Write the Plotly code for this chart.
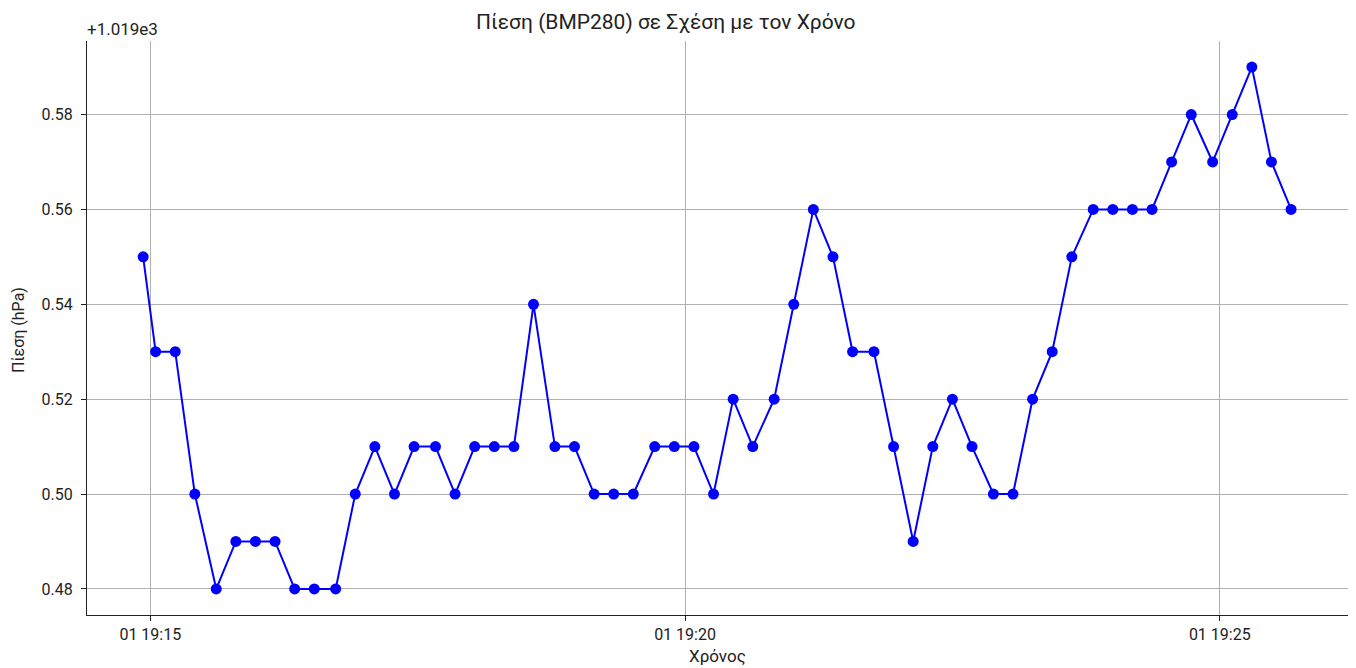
import plotly.graph_objects as go

# Timestamps
times = [
    "2025-01-01 19:14:56", "2025-01-01 19:15:03", "2025-01-01 19:15:14", "2025-01-01 19:15:25",
    "2025-01-01 19:15:37", "2025-01-01 19:15:48", "2025-01-01 19:15:59", "2025-01-01 19:16:10",
    "2025-01-01 19:16:21", "2025-01-01 19:16:32", "2025-01-01 19:16:44", "2025-01-01 19:16:55",
    "2025-01-01 19:17:06", "2025-01-01 19:17:17", "2025-01-01 19:17:28", "2025-01-01 19:17:40",
    "2025-01-01 19:17:51", "2025-01-01 19:18:02", "2025-01-01 19:18:13", "2025-01-01 19:18:24",
    "2025-01-01 19:18:35", "2025-01-01 19:18:47", "2025-01-01 19:18:58", "2025-01-01 19:19:09",
    "2025-01-01 19:19:20", "2025-01-01 19:19:31", "2025-01-01 19:19:43", "2025-01-01 19:19:54",
    "2025-01-01 19:20:05", "2025-01-01 19:20:16", "2025-01-01 19:20:27", "2025-01-01 19:20:38",
    "2025-01-01 19:20:50", "2025-01-01 19:21:01", "2025-01-01 19:21:12", "2025-01-01 19:21:23",
    "2025-01-01 19:21:34", "2025-01-01 19:21:46", "2025-01-01 19:21:57", "2025-01-01 19:22:08",
    "2025-01-01 19:22:19", "2025-01-01 19:22:30", "2025-01-01 19:22:41", "2025-01-01 19:22:53",
    "2025-01-01 19:23:04", "2025-01-01 19:23:15", "2025-01-01 19:23:26", "2025-01-01 19:23:37",
    "2025-01-01 19:23:49", "2025-01-01 19:24:00", "2025-01-01 19:24:11", "2025-01-01 19:24:22",
    "2025-01-01 19:24:33", "2025-01-01 19:24:44", "2025-01-01 19:24:56", "2025-01-01 19:25:07",
    "2025-01-01 19:25:18", "2025-01-01 19:25:29", "2025-01-01 19:25:40",
]

# Pressure in hPa
pressure = [
    1019.55, 1019.53, 1019.53, 1019.50, 1019.48, 1019.49, 1019.49, 1019.49,
    1019.48, 1019.48, 1019.48, 1019.50, 1019.51, 1019.50, 1019.51, 1019.51,
    1019.50, 1019.51, 1019.51, 1019.51, 1019.54, 1019.51, 1019.51, 1019.50,
    1019.50, 1019.50, 1019.51, 1019.51, 1019.51, 1019.50, 1019.52, 1019.51,
    1019.52, 1019.54, 1019.56, 1019.55, 1019.53, 1019.53, 1019.51, 1019.49,
    1019.51, 1019.52, 1019.51, 1019.50, 1019.50, 1019.52, 1019.53, 1019.55,
    1019.56, 1019.56, 1019.56, 1019.56, 1019.57, 1019.58, 1019.57, 1019.58,
    1019.59, 1019.57, 1019.56,
]

y_tick_vals = [1019.48, 1019.50, 1019.52, 1019.54, 1019.56, 1019.58]
y_tick_text = ["0.48", "0.50", "0.52", "0.54", "0.56", "0.58"]
x_tick_vals = ["2025-01-01 19:15:00", "2025-01-01 19:20:00", "2025-01-01 19:25:00"]
x_tick_text = ["01 19:15", "01 19:20", "01 19:25"]

FONT = "Roboto, 'Open Sans', sans-serif"
TXT = "#222222"

fig = go.Figure()
fig.add_trace(go.Scatter(
    x=times, y=pressure, mode="lines+markers",
    line=dict(color="#0000ff", width=2),
    marker=dict(color="#0000ff", size=11),
    showlegend=False,
))

# The page body has an 8px margin, so the figure starts at (8, 8) in the window.
OFF = 8
W, H = 1356 - OFF, 668 - OFF
L, T = 87 - OFF, 41 - OFF
R = W - (1349 - OFF)
B = H - (615 - OFF)
ph = H - T - B
pw = W - L - R


def px_x(x):
    return (x - OFF - L) / pw


def px_y(y):
    return (H - B - (y - OFF)) / ph


fig.update_layout(
    width=W, height=H,
    margin=dict(l=L, r=R, t=T, b=B),
    paper_bgcolor="white", plot_bgcolor="white",
    font=dict(family=FONT, size=16, color=TXT),
    xaxis=dict(
        range=["2025-01-01 19:14:24.5", "2025-01-01 19:26:12.5"],
        tickvals=x_tick_vals, ticktext=x_tick_text,
        showgrid=True, gridcolor="#b0b0b0", gridwidth=1,
        showline=True, linecolor=TXT, linewidth=1.2,
        ticks="outside", ticklen=5, tickcolor=TXT,
        zeroline=False, automargin=False,
    ),
    yaxis=dict(
        range=[1019.4745, 1019.5955],
        tickvals=y_tick_vals, ticktext=y_tick_text,
        showgrid=True, gridcolor="#b0b0b0", gridwidth=1,
        showline=True, linecolor=TXT, linewidth=1.2,
        ticks="outside", ticklen=5, tickcolor=TXT,
        ticklabelstandoff=5,
        zeroline=False, automargin=False,
    ),
    annotations=[
        dict(text="Πίεση (BMP280) σε Σχέση με τον Χρόνο",
             xref="paper", yref="paper", x=px_x(666), y=px_y(22),
             xanchor="center", yanchor="middle", showarrow=False,
             font=dict(size=21, color=TXT)),
        dict(text="+1.019e3",
             xref="paper", yref="paper", x=px_x(85), y=px_y(29),
             xanchor="left", yanchor="middle", showarrow=False,
             font=dict(size=17, color=TXT)),
        dict(text="Χρόνος",
             xref="paper", yref="paper", x=px_x(717), y=px_y(656),
             xanchor="center", yanchor="middle", showarrow=False,
             font=dict(size=17, color=TXT)),
        dict(text="Πίεση (hPa)",
             xref="paper", yref="paper", x=px_x(18), y=px_y(330),
             xanchor="center", yanchor="middle", showarrow=False,
             textangle=-90, font=dict(size=16, color=TXT)),
    ],
)

fig.write_html("out.html")
